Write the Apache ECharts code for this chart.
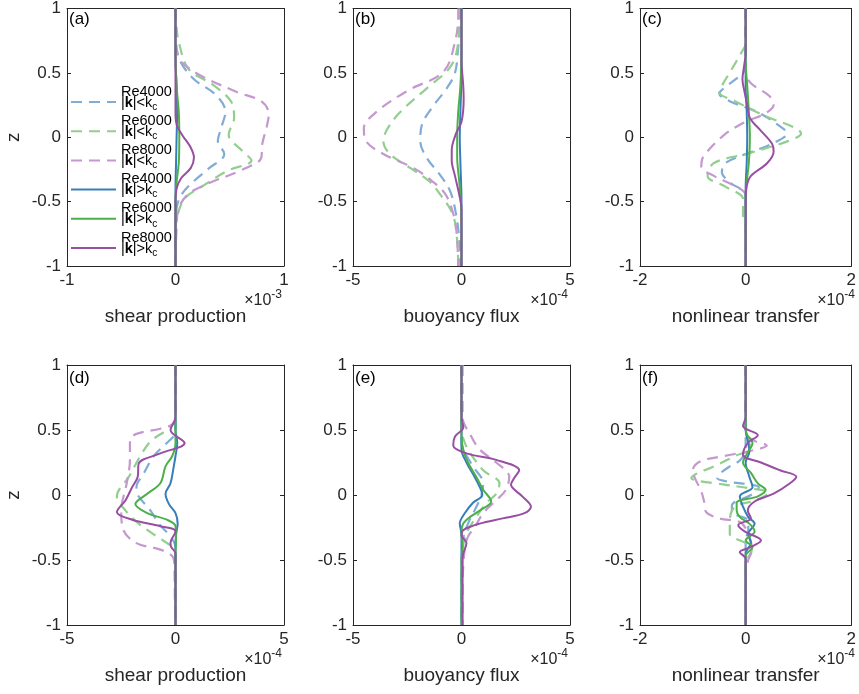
<!DOCTYPE html>
<html><head><meta charset="utf-8">
<script src="https://cdn.jsdelivr.net/npm/echarts@6/dist/echarts.min.js"></script>
<style>html,body{margin:0;padding:0;background:#fff}#c{width:859px;height:694px}</style>
</head><body><div id="c"></div>
<script>
// Names
const seriesNames = ['Re4000 |k|<kc','Re6000 |k|<kc','Re8000 |k|<kc','Re4000 |k|>kc','Re6000 |k|>kc','Re8000 |k|>kc'];
const yTicks = [-1,-0.5,0,0.5,1];
// Each array: [value (scaled by the panel exponent), z]
// (a) shear production, x1e-3
const aLo4000 = [[0,1],[0,0.8],[0.01,0.68],[0.05,0.58],[0.17,0.45],[0.37,0.33],[0.46,0.2],[0.42,0.07],[0.39,-0.03],[0.45,-0.13],[0.31,-0.24],[0.17,-0.34],[0.06,-0.44],[0.01,-0.55],[0,-0.7],[0,-1]];
const aLo6000 = [[0,1],[0.01,0.85],[0.03,0.74],[0.12,0.53],[0.34,0.41],[0.51,0.28],[0.54,0.15],[0.49,0.02],[0.62,-0.11],[0.7,-0.18],[0.48,-0.26],[0.23,-0.39],[0.09,-0.47],[0.02,-0.6],[0,-0.75],[0,-1]];
const aLo8000 = [[0,1],[0,0.8],[0.02,0.65],[0.06,0.58],[0.23,0.48],[0.57,0.35],[0.79,0.28],[0.86,0.18],[0.84,0.08],[0.8,-0.05],[0.79,-0.16],[0.62,-0.25],[0.3,-0.36],[0.12,-0.44],[0.03,-0.55],[0.01,-0.7],[0,-1]];
const aHi4000 = [[0,1],[0,0.6],[0.01,0.4],[0.015,0.2],[0.01,0],[0.005,-0.2],[0,-0.4],[0,-1]];
const aHi6000 = [[0,1],[0,0.7],[0.01,0.4],[0.03,0.2],[0.035,0],[0.03,-0.2],[0.01,-0.35],[0,-0.5],[0,-1]];
const aHi8000 = [[0,1],[0,0.2],[0.01,0.1],[0.06,0.02],[0.14,-0.08],[0.17,-0.16],[0.14,-0.24],[0.05,-0.32],[0.01,-0.4],[0,-0.5],[0,-1]];
// (b) buoyancy flux, x1e-4
const bLo4000 = [[0,1],[-0.05,0.9],[-0.15,0.7],[-0.3,0.5],[-0.68,0.38],[-1.36,0.23],[-1.82,0.1],[-1.9,-0.03],[-1.6,-0.16],[-1.0,-0.29],[-0.52,-0.42],[-0.25,-0.6],[-0.1,-0.8],[-0.05,-1]];
const bLo6000 = [[-0.1,1],[-0.1,0.95],[-0.15,0.74],[-0.5,0.55],[-1.6,0.38],[-2.8,0.2],[-3.4,0.07],[-3.6,-0.03],[-3.3,-0.13],[-2.35,-0.24],[-1.5,-0.34],[-1.0,-0.44],[-0.4,-0.6],[-0.2,-0.8],[-0.15,-1]];
const bLo8000 = [[-0.15,1],[-0.15,0.95],[-0.3,0.74],[-0.83,0.51],[-2.5,0.36],[-3.9,0.2],[-4.5,0.07],[-4.4,-0.03],[-3.6,-0.13],[-2.2,-0.24],[-1.36,-0.34],[-0.75,-0.44],[-0.37,-0.6],[-0.22,-0.75],[-0.15,-1]];
const bHi4000 = [[0,1],[0,0.5],[-0.05,0.2],[-0.08,0],[-0.05,-0.2],[0,-0.5],[0,-1]];
const bHi6000 = [[0,1],[0,0.7],[-0.05,0.4],[-0.15,0.2],[-0.2,0],[-0.2,-0.15],[-0.1,-0.35],[-0.02,-0.55],[0,-1]];
const bHi8000 = [[0,1],[0,0.6],[0.08,0.4],[0.1,0.3],[0,0.12],[-0.25,0.03],[-0.45,-0.1],[-0.45,-0.18],[-0.3,-0.3],[-0.1,-0.45],[0,-0.55],[0,-1]];
// (c) nonlinear transfer, x1e-4
const cLo4000 = [[0,1],[0,0.55],[-0.05,0.5],[-0.35,0.4],[-0.5,0.34],[-0.3,0.28],[0.2,0.2],[0.6,0.1],[0.78,0.03],[0.5,-0.05],[0,-0.13],[-0.38,-0.2],[-0.45,-0.27],[-0.3,-0.35],[0,-0.45],[0,-1]];
const cLo6000 = [[0,1],[0,0.72],[-0.05,0.68],[-0.26,0.53],[-0.45,0.4],[-0.5,0.35],[-0.2,0.28],[0.4,0.16],[0.9,0.08],[1.05,0.03],[0.8,-0.03],[0.1,-0.12],[-0.6,-0.2],[-0.72,-0.3],[-0.4,-0.38],[-0.05,-0.48],[-0.05,-0.6],[0,-0.7],[0,-1]];
const cLo8000 = [[0,1],[0,0.5],[0.1,0.42],[0.45,0.32],[0.53,0.25],[0.35,0.18],[0,0.12],[-0.4,0.02],[-0.8,-0.15],[-0.84,-0.23],[-0.6,-0.3],[-0.2,-0.38],[0,-0.45],[0,-1]];
const cHi4000 = [[0,1],[0,0.4],[0.02,0.2],[0.03,0],[0.02,-0.2],[0,-0.4],[0,-1]];
const cHi6000 = [[0,1],[0,0.6],[0.03,0.4],[0.06,0.2],[0.08,0],[0.06,-0.2],[0.02,-0.35],[0,-0.5],[0,-1]];
const cHi8000 = [[0,1],[0,0.65],[-0.03,0.55],[-0.06,0.45],[-0.02,0.35],[0.03,0.25],[0.08,0.15],[0.29,0.05],[0.5,-0.05],[0.53,-0.11],[0.41,-0.2],[0.1,-0.3],[0.02,-0.38],[0,-0.5],[0,-1]];
// (d) shear production, x1e-4
const dLo4000 = [[0,1],[0,0.5],[-0.05,0.46],[-0.4,0.4],[-1.0,0.3],[-1.45,0.17],[-1.8,0.06],[-1.7,-0.01],[-1.15,-0.12],[-0.77,-0.22],[-0.23,-0.32],[0,-0.4],[0,-1]];
const dLo6000 = [[0,1],[0,0.6],[-0.05,0.56],[-0.4,0.5],[-1.1,0.42],[-1.55,0.32],[-2.15,0.14],[-2.7,-0.01],[-2.3,-0.12],[-1.7,-0.22],[-0.85,-0.32],[-0.15,-0.4],[0,-0.45],[0,-1]];
const dLo8000 = [[0,1],[0,0.62],[-0.1,0.55],[-0.7,0.51],[-1.8,0.47],[-2.1,0.42],[-2.1,0.27],[-2.25,0.09],[-2.5,-0.12],[-2.4,-0.27],[-1.8,-0.37],[-0.7,-0.42],[-0.15,-0.47],[-0.05,-0.55],[-0.03,-0.8],[0,-1]];
const dHi4000 = [[0,1],[0,0.5],[0.08,0.4],[0,0.3],[-0.08,0.22],[-0.23,0.09],[-0.46,0.01],[-0.3,-0.07],[0,-0.14],[0.1,-0.22],[0.03,-0.3],[0,-0.4],[0,-1]];
const dHi6000 = [[0,1],[0,0.5],[0,0.4],[-0.15,0.3],[-0.46,0.22],[-0.7,0.09],[-1.3,0.01],[-1.85,-0.07],[-1.3,-0.14],[-0.4,-0.19],[0,-0.24],[0.02,-0.35],[0,-0.45],[0,-1]];
const dHi8000 = [[0,1],[0,0.6],[-0.23,0.5],[0.42,0.4],[-0.7,0.32],[-1.7,0.24],[-1.74,0.14],[-2.0,0.06],[-2.3,-0.04],[-2.7,-0.13],[-2.0,-0.19],[-0.7,-0.24],[0,-0.28],[-0.23,-0.37],[-0.2,-0.4],[0,-0.45],[0,-1]];
// (e) buoyancy flux, x1e-4
const eLo4000 = [[0,1],[0,0.4],[0.08,0.35],[0.53,0.22],[1.0,0.09],[0.9,-0.01],[0.6,-0.12],[0.3,-0.22],[0.1,-0.32],[0.02,-0.45],[0,-1]];
const eLo6000 = [[0,1],[0,0.5],[0.05,0.45],[0.3,0.35],[1.0,0.19],[1.75,0.09],[1.6,0.01],[1.15,-0.06],[0.68,-0.17],[0.3,-0.27],[0.1,-0.37],[0.03,-0.5],[0,-1]];
const eLo8000 = [[0.05,1],[0.05,0.7],[0.05,0.6],[0.45,0.45],[0.84,0.35],[1.6,0.25],[2.2,0.14],[2.05,0.04],[1.6,-0.04],[1.0,-0.14],[0.6,-0.25],[0.3,-0.32],[0.15,-0.42],[0.08,-0.55],[0.05,-0.7],[0.05,-1]];
const eHi4000 = [[0,1],[0,0.45],[0,0.35],[0.23,0.25],[0.6,0.14],[0.9,0.04],[0.96,0],[0.53,-0.06],[0.15,-0.14],[-0.08,-0.22],[0,-0.3],[0,-1]];
const eHi6000 = [[0,1],[0,0.45],[0.08,0.35],[0.3,0.25],[0.68,0.14],[1.0,0.04],[1.37,-0.05],[0.84,-0.12],[0.38,-0.17],[0.08,-0.22],[0,-0.28],[0.05,-0.4],[0,-0.5],[0,-1]];
const eHi8000 = [[0,1],[0,0.6],[0.08,0.52],[-0.3,0.45],[-0.38,0.38],[0.23,0.32],[1.6,0.27],[2.66,0.19],[2.43,0.13],[2.28,0.08],[2.8,-0.01],[3.2,-0.09],[2.9,-0.14],[1.9,-0.18],[0.84,-0.22],[0.08,-0.27],[0,-0.31],[0.23,-0.37],[0.08,-0.45],[0.05,-0.5],[0.05,-0.7],[0.05,-1]];
// (f) nonlinear transfer, x1e-4
const fLo4000 = [[0,1],[0,0.4],[0,0.35],[-0.1,0.27],[-0.3,0.22],[-0.5,0.16],[-0.54,0.13],[-0.3,0.1],[0.1,0.08],[0.25,0.06],[0.1,0],[-0.26,-0.08],[-0.26,-0.13],[0.05,-0.2],[0.05,-0.27],[0,-0.35],[0,-1]];
const fLo6000 = [[0,1],[0,0.5],[0.05,0.42],[0.1,0.36],[-0.2,0.3],[-0.6,0.22],[-0.95,0.16],[-1.03,0.13],[-0.4,0.08],[0.1,0.05],[0.44,0.02],[0.2,-0.04],[-0.2,-0.09],[-0.3,-0.2],[-0.3,-0.3],[0,-0.37],[0.12,-0.42],[0.05,-0.48],[0,-0.55],[0,-1]];
const fLo8000 = [[0,1],[0,0.48],[0.15,0.42],[0.4,0.38],[0.1,0.34],[-0.4,0.3],[-0.85,0.26],[-1.0,0.19],[-0.95,0.12],[-0.85,0.04],[-0.78,-0.06],[-0.75,-0.13],[-0.5,-0.18],[-0.1,-0.21],[0.05,-0.3],[0.12,-0.42],[0.05,-0.5],[0,-0.6],[0,-1]];
const fHi4000 = [[0,1],[0,0.5],[0.05,0.4],[0.07,0.33],[0,0.25],[0.07,0.14],[0.13,0.06],[-0.11,-0.01],[-0.05,-0.09],[0.05,-0.17],[0.17,-0.22],[0.05,-0.3],[0.1,-0.37],[0,-0.45],[0,-1]];
const fHi6000 = [[0,1],[0,0.55],[0.02,0.47],[0.13,0.4],[0.03,0.32],[-0.05,0.25],[0.1,0.17],[0.23,0.09],[0.38,0.04],[0.23,-0.01],[-0.17,-0.06],[-0.17,-0.12],[-0.11,-0.17],[0.07,-0.22],[0.17,-0.28],[0,-0.35],[0.13,-0.4],[0,-0.47],[0,-1]];
const fHi8000 = [[0,1],[0,0.6],[-0.05,0.53],[0.23,0.46],[0.04,0.4],[-0.05,0.31],[0.29,0.25],[0.65,0.19],[0.96,0.14],[0.84,0.09],[0.53,0.01],[0.17,-0.05],[0.04,-0.12],[0.1,-0.18],[-0.14,-0.23],[-0.02,-0.28],[0.29,-0.35],[0.1,-0.4],[-0.11,-0.44],[0,-0.49],[0,-1]];

// panel axis settings
const panelLabels = ['(a)','(b)','(c)','(d)','(e)','(f)'];
const xTitles = ['shear production','buoyancy flux','nonlinear transfer','shear production','buoyancy flux','nonlinear transfer'];
const xMins = [-1,-5,-2,-5,-5,-2];
const xMaxs = [1,5,2,5,5,2];
const xSteps = [1,5,2,5,5,2];
const exps = ['-3','-4','-4','-4','-4','-4'];
const panelData = [
  [aLo4000,aLo6000,aLo8000,aHi4000,aHi6000,aHi8000],
  [bLo4000,bLo6000,bLo8000,bHi4000,bHi6000,bHi8000],
  [cLo4000,cLo6000,cLo8000,cHi4000,cHi6000,cHi8000],
  [dLo4000,dLo6000,dLo8000,dHi4000,dHi6000,dHi8000],
  [eLo4000,eLo6000,eLo8000,eHi4000,eHi6000,eHi8000],
  [fLo4000,fLo6000,fLo8000,fHi4000,fHi6000,fHi8000]
];

// layout / style
const lefts = [67,353,640];
const tops = [6,365];
const W = 217, H = 260;
const colors = ['#80acd6','#92cf8f','#c598cf','#377eb8','#4daf4a','#984ea3'];
const AX = '#262626';
const FONT = '"Liberation Sans", Arial, Helvetica, sans-serif';

const grid = [], xAxis = [], yAxis = [], series = [], title = [];
for (let p = 0; p < 6; p++) {
  const col = p % 3, row = Math.floor(p / 3);
  const L = lefts[col], T = tops[row];
  grid.push({left: L, top: T, width: W, height: H, containLabel: false});
  const base = {gridIndex: p, type: 'value', min: xMins[p], max: xMaxs[p], interval: xSteps[p], splitLine: {show: false},
    axisLine: {show: true, onZero: false, lineStyle: {color: AX, width: 1}},
    axisTick: {show: true, inside: true, length: 4, lineStyle: {color: AX}}};
  xAxis.push(Object.assign({}, base, {position: 'bottom',
    axisLabel: {show: true, margin: 6, color: AX, fontSize: 17, fontFamily: FONT},
    name: xTitles[p], nameLocation: 'middle', nameGap: 41,
    nameTextStyle: {color: AX, fontSize: 19, fontFamily: FONT}}));
  xAxis.push(Object.assign({}, base, {position: 'top', axisLabel: {show: false}}));
  const ybase = {gridIndex: p, type: 'value', min: -1, max: 1, interval: 0.5, splitLine: {show: false},
    axisLine: {show: true, onZero: false, lineStyle: {color: AX, width: 1}},
    axisTick: {show: true, inside: true, length: 4, lineStyle: {color: AX}}};
  const yl = Object.assign({}, ybase, {position: 'left',
    axisLabel: {show: true, margin: 6, color: AX, fontSize: 17, fontFamily: FONT}});
  if (col === 0) {
    yl.name = 'z'; yl.nameLocation = 'middle'; yl.nameGap = 44;
    yl.nameTextStyle = {color: AX, fontSize: 19, fontFamily: FONT};
  }
  yAxis.push(yl);
  yAxis.push(Object.assign({}, ybase, {position: 'right', axisLabel: {show: false}}));

  panelData[p].forEach((d, i) => {
    series.push({
      name: seriesNames[i], type: 'line', xAxisIndex: p * 2, yAxisIndex: p * 2,
      data: d, symbol: 'none', smooth: 0.35, animation: false, silent: true,
      lineStyle: {color: colors[i], width: i < 3 ? 2.2 : 2, type: i < 3 ? [11, 7] : 'solid'},
      itemStyle: {color: colors[i]}
    });
  });

  title.push({text: panelLabels[p], left: L + 2, top: T + 5, padding: 0,
    textStyle: {fontSize: 17, fontWeight: 'normal', color: '#000', fontFamily: FONT}});
  title.push({text: '{x|×10}{s|' + exps[p] + '}', right: 859 - (L + W) + 2, top: T + H + 23, padding: 0,
    textStyle: {fontWeight: 'normal', rich: {
      x: {fontSize: 16, fontWeight: 'normal', lineHeight: 20, verticalAlign: 'bottom', color: AX, fontFamily: FONT},
      s: {fontSize: 12, fontWeight: 'normal', lineHeight: 20, verticalAlign: 'top', color: AX, fontFamily: FONT}
    }}});
}

const legendText = {
  'Re4000 |k|<kc': ['Re4000', '<'], 'Re6000 |k|<kc': ['Re6000', '<'], 'Re8000 |k|<kc': ['Re8000', '<'],
  'Re4000 |k|>kc': ['Re4000', '>'], 'Re6000 |k|>kc': ['Re6000', '>'], 'Re8000 |k|>kc': ['Re8000', '>']
};
const rs = {fontSize: 14.5, lineHeight: 11, color: '#000', fontFamily: FONT};
const option = {
  backgroundColor: '#fff',
  animation: false,
  grid, xAxis, yAxis, series, title,
  legend: {
    data: seriesNames, orient: 'vertical', left: 70, top: 84, padding: 0,
    itemWidth: 45, itemHeight: 12, itemGap: 1.2, selectedMode: false,
    itemStyle: {opacity: 0},
    formatter: n => '{t|' + legendText[n][0] + '}\n{n||}{k|k}{n||' + legendText[n][1] + 'k}{c|c}',
    textStyle: {fontSize: 14.5, fontFamily: FONT, color: '#000', padding: [0, 0, 10, 0], rich: {
      t: rs, n: rs,
      k: Object.assign({}, rs, {fontWeight: 'bold'}),
      c: Object.assign({}, rs, {fontSize: 10, padding: [9, 0, 0, 0]})
    }}
  }
};
const chart = echarts.init(document.getElementById('c'), null, {renderer: 'canvas'});
chart.setOption(option);
</script></body></html>
